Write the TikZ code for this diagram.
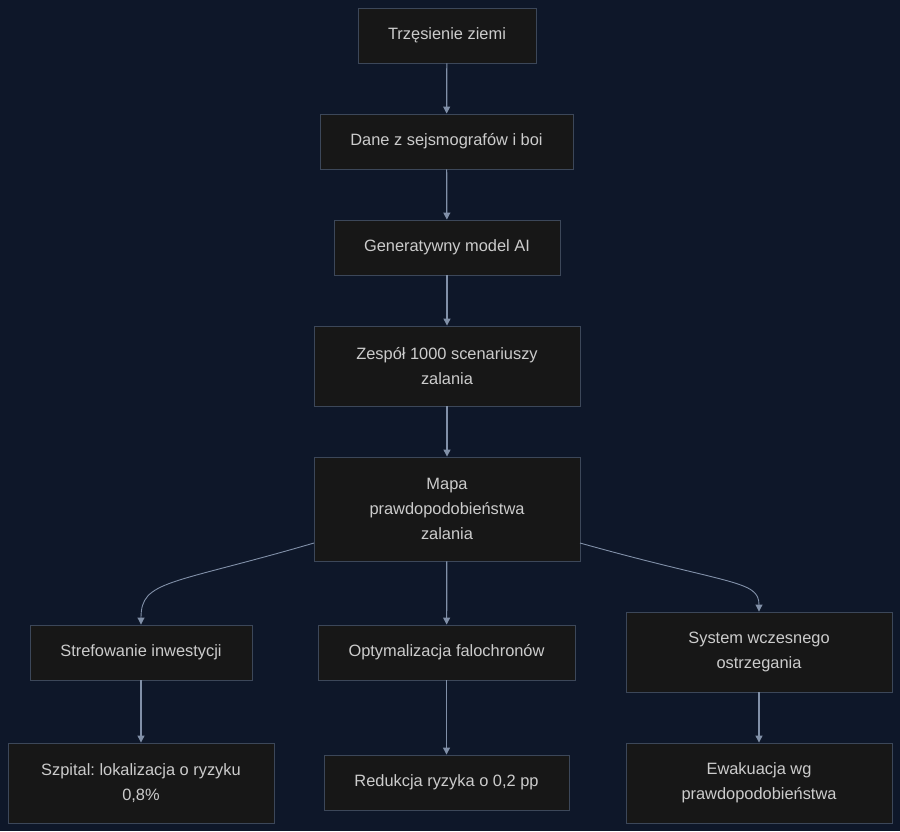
\documentclass[tikz,border=0pt]{standalone}
\usepackage{fontspec}
\setmainfont{Liberation Sans}
\usepackage{xcolor}
\usepackage{tikz}
\usetikzlibrary{arrows.meta}
\frenchspacing

\definecolor{bgnavy}{HTML}{0E1729}
\definecolor{boxfill}{HTML}{171717}
\definecolor{boxline}{HTML}{3C4759}
\definecolor{txtgrey}{HTML}{CCCCCC}
\definecolor{edgeblue}{HTML}{8190A8}

\begin{document}
\begin{tikzpicture}[x=1pt, y=-1pt,
  blok/.style={draw=boxline, fill=boxfill, line width=0.9pt, text=txtgrey,
    font=\fontsize{16.4}{25}\selectfont, align=center, inner sep=0pt},
  arr/.style={draw=edgeblue, line width=1.2pt, -{Triangle[width=7pt,length=7pt]}},
  curvearr/.style={draw=edgeblue, line width=0.9pt, -{Triangle[width=7pt,length=7pt]}}]
\fill[bgnavy] (0,0) rectangle (900,831);
\useasboundingbox (0,0) rectangle (900,831);

\node[blok, minimum width=178pt, minimum height=55pt] (quake) at (447,35.5) {Trzęsienie ziemi};
\node[blok, minimum width=253pt, minimum height=55pt] (data) at (446.5,141.5) {Dane z sejsmografów i boi};
\node[blok, minimum width=226pt, minimum height=55pt] (model) at (447,247.5) {Generatywny model AI};
\node[blok, minimum width=266pt, minimum height=80pt] (ensemble) at (447,366) {Zespół 1000 scenariuszy\\zalania};
\node[blok, minimum width=266pt, minimum height=104pt] (probmap) at (447,509) {Mapa\\prawdopodobieństwa\\zalania};

\node[blok, minimum width=222pt, minimum height=55pt] (zoning) at (141,652.5) {Strefowanie inwestycji};
\node[blok, minimum width=257pt, minimum height=55pt] (seawall) at (446.5,652.5) {Optymalizacja falochronów};
\node[blok, minimum width=266pt, minimum height=80pt] (warning) at (759,652) {System wczesnego\\ostrzegania};

\node[blok, minimum width=266pt, minimum height=80pt] (hospital) at (141,783) {Szpital: lokalizacja o ryzyku\\0,8\%};
\node[blok, minimum width=245pt, minimum height=55pt] (risk) at (446.5,782.5) {Redukcja ryzyka o 0,2 pp};
\node[blok, minimum width=266pt, minimum height=80pt] (evac) at (759,783) {Ewakuacja wg\\prawdopodobieństwa};

\draw[arr] (quake) -- (data);
\draw[arr] (data) -- (model);
\draw[arr] (model) -- (ensemble);
\draw[arr] (ensemble) -- (probmap);
\draw[arr] (probmap) -- (seawall);

%% curved branches
\coordinate (mapL) at (314,543);
\coordinate (mapR) at (580,543);
\draw[curvearr] (mapL) .. controls (170,585) and (141,580) .. (zoning.north);
\draw[curvearr] (mapR) .. controls (730,585) and (759,580) .. (warning.north);

\draw[arr] (zoning) -- (hospital);
\draw[arr] (seawall) -- (risk);
\draw[arr] (warning) -- (evac);
\end{tikzpicture}
\end{document}
